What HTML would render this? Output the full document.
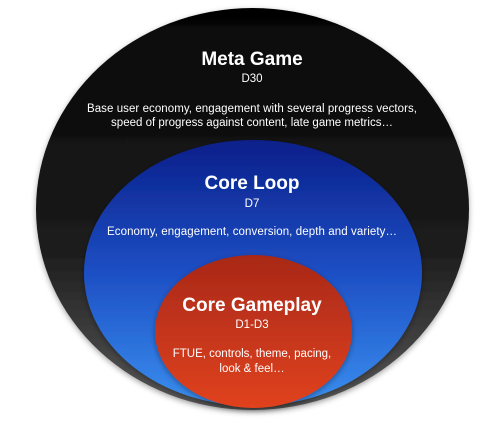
<!DOCTYPE html>
<html><head><style>
html,body{margin:0;padding:0;background:#fff;width:500px;height:424px;overflow:hidden}
svg text{font-family:"Liberation Sans",sans-serif;fill:#fff;text-anchor:middle}
</style></head><body>
<svg width="500" height="424" viewBox="0 0 500 424">
<defs>
<linearGradient id="bk" x1="0" y1="0" x2="0" y2="1">
<stop offset="0" stop-color="#050505"/><stop offset="0.6" stop-color="#1c1c1c"/><stop offset="1" stop-color="#5a5a5a"/></linearGradient>
<linearGradient id="bl" x1="0" y1="0" x2="0" y2="1">
<stop offset="0" stop-color="#0a1f8a"/><stop offset="0.5" stop-color="#1d4fc4"/><stop offset="1" stop-color="#3a8ff0"/></linearGradient>
<linearGradient id="rd" x1="0" y1="0" x2="0" y2="1">
<stop offset="0" stop-color="#a82818"/><stop offset="1" stop-color="#e0421e"/></linearGradient>
<filter id="sh" x="-10%" y="-10%" width="120%" height="130%"><feDropShadow dx="0" dy="2" stdDeviation="3" flood-opacity="0.35"/></filter>
</defs>
<ellipse cx="252.5" cy="209" rx="216.5" ry="201" fill="url(#bk)" filter="url(#sh)"/>
<ellipse cx="253" cy="273" rx="169" ry="133" fill="url(#bl)" filter="url(#sh)"/>
<ellipse cx="253.5" cy="331.5" rx="98.5" ry="76.5" fill="url(#rd)" filter="url(#sh)"/>
<text x="252" y="65" font-size="19" font-weight="bold">Meta Game</text>
<text x="252" y="82" font-size="11.5" fill="#ccc">D30</text>
<text x="252" y="112" font-size="11.5" fill="#e6e6e6" textLength="330">Base user economy, engagement with several progress vectors,</text>
<text x="252" y="126" font-size="11.5" fill="#e6e6e6">speed of progress against content, late game metrics…</text>
<text x="252" y="189" font-size="19" font-weight="bold">Core Loop</text>
<text x="252" y="207" font-size="11.5" fill="#ccc">D7</text>
<text x="252" y="235" font-size="11.5" fill="#e6e6e6" textLength="290">Economy, engagement, conversion, depth and variety…</text>
<text x="252" y="311" font-size="19" font-weight="bold">Core Gameplay</text>
<text x="252" y="328" font-size="11.5" fill="#eee">D1-D3</text>
<text x="252" y="357" font-size="11.5" fill="#eee">FTUE, controls, theme, pacing,</text>
<text x="252" y="372" font-size="11.5" fill="#eee">look &amp; feel…</text>
</svg>
</body></html>
